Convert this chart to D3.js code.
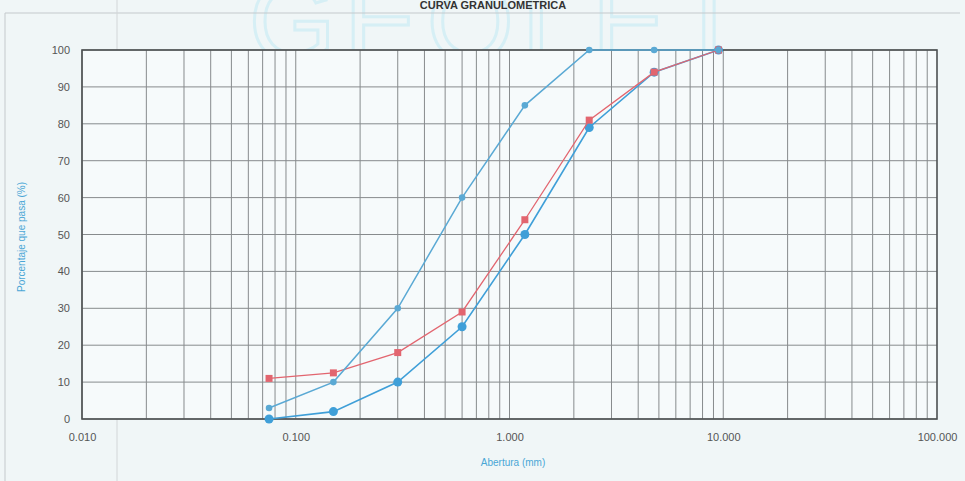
<!DOCTYPE html>
<html>
<head>
<meta charset="utf-8">
<script src="https://cdn.jsdelivr.net/npm/d3@7/dist/d3.min.js"></script>
<style>
  body { margin: 0; background: #f0f6f7; }
  svg { display: block; }
</style>
</head>
<body>
<div id="chart"></div>
<script>
// sieve openings (mm) and % passing for the three samples
var aberturas = [0.075, 0.15, 0.3, 0.6, 1.18, 2.36, 4.75, 9.5];
var muestraFina = [3, 10, 30, 60, 85, 100, 100, 100];
var muestraRoja = [11, 12.5, 18, 29, 54, 81, 94, 100];
var muestraGruesa = [0, 2, 10, 25, 50, 79, 94, 100];
var xTicks = [0.01, 0.1, 1, 10, 100];
var yTicks = [0, 10, 20, 30, 40, 50, 60, 70, 80, 90, 100];

var width = 965, height = 481;
var margin = { left: 82, right: 28, top: 50, bottom: 62 };

var svg = d3.select("#chart").append("svg")
  .attr("width", width)
  .attr("height", height)
  .style("font-family", "Arial, 'Liberation Sans', sans-serif");

svg.append("rect")
  .attr("width", width).attr("height", height)
  .attr("fill", "#f0f6f7");

// watermark of the sheet
svg.append("text")
  .attr("x", 500).attr("y", 60)
  .attr("text-anchor", "middle")
  .style("font-size", "112px")
  .style("letter-spacing", "8px")
  .attr("fill", "none")
  .attr("stroke", "#d6eff5")
  .attr("stroke-width", 3)
  .text("GEOLET");

// frame lines of the sheet
svg.append("line").attr("x1", 5).attr("x2", 960).attr("y1", 13).attr("y2", 13)
  .attr("stroke", "#c4c9cc");
svg.append("line").attr("x1", 5).attr("x2", 5).attr("y1", 13).attr("y2", 481)
  .attr("stroke", "#c4c9cc");
svg.append("line").attr("x1", 117).attr("x2", 117).attr("y1", 0).attr("y2", 481)
  .attr("stroke", "#d2d6d8");

svg.append("text")
  .attr("x", 493).attr("y", 9)
  .attr("text-anchor", "middle")
  .style("font-size", "11px")
  .style("font-weight", "bold")
  .attr("fill", "#333")
  .text("CURVA GRANULOMETRICA");

var x = d3.scaleLog()
  .domain([0.01, 100])
  .range([margin.left, width - margin.right]);

var y = d3.scaleLinear()
  .domain([0, 100])
  .range([height - margin.bottom, margin.top]);

var g = svg.append("g");

g.append("rect")
  .attr("x", x(0.01)).attr("y", y(100))
  .attr("width", x(100) - x(0.01))
  .attr("height", y(0) - y(100))
  .attr("fill", "#f6fafb");

// vertical gridlines: decades plus 2..9 inside each
var vLines = [];
for (var e = -2; e < 2; e++) {
  for (var k = 1; k <= 9; k++) vLines.push(k * Math.pow(10, e));
}
g.selectAll(".vgrid")
  .data(vLines)
  .enter().append("line")
  .attr("class", "vgrid")
  .attr("x1", function(d) { return x(d); })
  .attr("x2", function(d) { return x(d); })
  .attr("y1", y(0)).attr("y2", y(100))
  .attr("stroke", "#878b8d")
  .attr("stroke-width", 1);

g.selectAll(".hgrid")
  .data(yTicks)
  .enter().append("line")
  .attr("class", "hgrid")
  .attr("x1", x(0.01)).attr("x2", x(100))
  .attr("y1", function(d) { return y(d); })
  .attr("y2", function(d) { return y(d); })
  .attr("stroke", "#878b8d")
  .attr("stroke-width", 1);

g.append("rect")
  .attr("x", x(0.01)).attr("y", y(100))
  .attr("width", x(100) - x(0.01))
  .attr("height", y(0) - y(100))
  .attr("fill", "none")
  .attr("stroke", "#4d5052")
  .attr("stroke-width", 1.6);

// axes
var xAxis = d3.axisBottom(x)
  .tickValues(xTicks)
  .tickFormat(d3.format(".3f"))
  .tickSize(0)
  .tickPadding(14);
var gx = svg.append("g")
  .attr("transform", "translate(0," + y(0) + ")")
  .call(xAxis);
gx.select(".domain").remove();
gx.selectAll("text").style("font-size", "11px").attr("fill", "#555");

var yAxis = d3.axisLeft(y)
  .tickValues(yTicks)
  .tickSize(0)
  .tickPadding(12);
var gy = svg.append("g")
  .attr("transform", "translate(" + x(0.01) + ",0)")
  .call(yAxis);
gy.select(".domain").remove();
gy.selectAll("text").style("font-size", "11px").attr("fill", "#555");

svg.append("text")
  .attr("x", 513).attr("y", 466)
  .attr("text-anchor", "middle")
  .style("font-size", "10px")
  .attr("fill", "#4aa6d6")
  .text("Abertura (mm)");

svg.append("text")
  .attr("transform", "translate(25," + 237 + ") rotate(-90)")
  .attr("text-anchor", "middle")
  .style("font-size", "10px")
  .attr("fill", "#4aa6d6")
  .text("Porcentaje que pasa (%)");

// series
var series = [
  { name: "gruesa", values: muestraGruesa, color: "#3f9fd8", width: 1.6, marker: "circle", size: 4.5 },
  { name: "roja", values: muestraRoja, color: "#e2656f", width: 1.3, marker: "square", size: 3.5 },
  { name: "fina", values: muestraFina, color: "#5aa9d4", width: 1.5, marker: "circle", size: 3.3 }
];

var line = d3.line()
  .x(function(d) { return x(d[0]); })
  .y(function(d) { return y(d[1]); });

series.forEach(function(s) {
  var pts = aberturas.map(function(a, i) { return [a, s.values[i]]; });
  var sg = svg.append("g").attr("class", "serie-" + s.name);
  sg.append("path")
    .datum(pts)
    .attr("d", line)
    .attr("fill", "none")
    .attr("stroke", s.color)
    .attr("stroke-width", s.width);
  if (s.marker == "circle") {
    sg.selectAll("circle")
      .data(pts)
      .enter().append("circle")
      .attr("cx", function(d) { return x(d[0]); })
      .attr("cy", function(d) { return y(d[1]); })
      .attr("r", s.size)
      .attr("fill", s.color);
  } else {
    sg.selectAll("rect")
      .data(pts)
      .enter().append("rect")
      .attr("x", function(d) { return x(d[0]) - s.size; })
      .attr("y", function(d) { return y(d[1]) - s.size; })
      .attr("width", s.size * 2)
      .attr("height", s.size * 2)
      .attr("fill", s.color);
  }
});
</script>
</body>
</html>
